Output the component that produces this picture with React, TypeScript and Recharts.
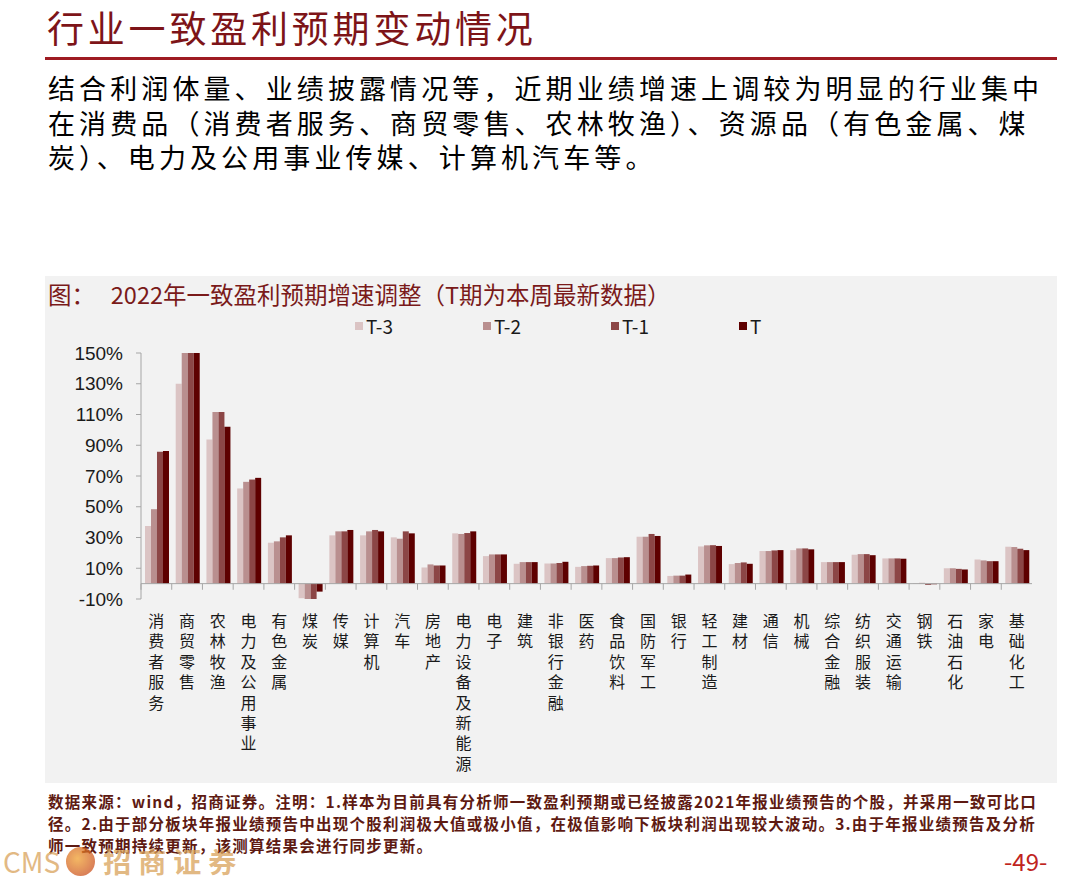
import React from 'react';
import { BarChart, Bar, XAxis, YAxis, ReferenceLine } from 'recharts';

// 行业（按图中顺序）
const industries = [
  '消费者服务', '商贸零售', '农林牧渔', '电力及公用事业', '有色金属', '煤炭', '传媒', '计算机',
  '汽车', '房地产', '电力设备及新能源', '电子', '建筑', '非银行金融', '医药', '食品饮料',
  '国防军工', '银行', '轻工制造', '建材', '通信', '机械', '综合金融', '纺织服装',
  '交通运输', '钢铁', '石油石化', '家电', '基础化工',
];

// 2022年一致盈利预期增速（%），读自图
const valuesT3 = [37.5, 130, 93.8, 61.9, 26.6, -9.5, 31.4, 31.4, 30.1, 10.5, 32.7, 17.9, 12.9, 13.1, 10.9, 16.6, 30.5, 5.0, 24.2, 12.7, 21.2, 21.8, 14.0, 18.8, 16.4, 0.3, 10.0, 15.7, 24.0];
const valuesT2 = [48.4, 150, 111.7, 66.2, 27.5, -10, 34.0, 34.0, 29.2, 12.5, 32.3, 19.0, 14.0, 13.1, 11.4, 16.6, 30.5, 5.2, 24.9, 13.4, 21.2, 22.9, 14.0, 19.2, 16.4, 0.5, 10.0, 15.1, 23.8];
const valuesT1 = [85.8, 150, 111.7, 67.7, 30.1, -10, 34.0, 34.9, 34.0, 11.8, 32.9, 19.0, 14.0, 13.4, 11.6, 17.0, 32.3, 5.2, 25.0, 13.8, 21.6, 22.9, 14.0, 19.2, 16.4, -0.8, 9.6, 14.6, 22.7];
const valuesT = [86.2, 150, 102.0, 68.8, 31.4, -5.2, 34.9, 34.0, 32.7, 11.8, 34.0, 19.0, 14.0, 14.2, 11.8, 17.2, 31.0, 5.9, 24.5, 12.9, 21.8, 22.3, 14.0, 18.5, 16.2, -0.4, 9.2, 14.6, 21.8];

const yTicks = [-10, 10, 30, 50, 70, 90, 110, 130, 150];

const series = [
  { key: 't3', name: 'T-3', color: '#dbc4c4' },
  { key: 't2', name: 'T-2', color: '#b98f8f' },
  { key: 't1', name: 'T-1', color: '#8c4646' },
  { key: 't0', name: 'T', color: '#5e0000' },
];

const data = industries.map((name, i) => ({
  name,
  t3: valuesT3[i],
  t2: valuesT2[i],
  t1: valuesT1[i],
  t0: valuesT[i],
}));

const CJK = "'Noto Sans CJK SC', 'Noto Sans', sans-serif";
const NARROW = "'Liberation Sans Narrow', 'Arial Narrow', 'Noto Sans CJK SC', sans-serif";
const AXIS_GRAY = '#a6a6a6';

// 竖排类目标签
const CategoryTick = (props: any) => {
  const { x, y, payload } = props;
  return (
    <text
      x={x}
      y={y + 14}
      fontSize={16}
      fill="#1a1a1a"
      fontFamily={CJK}
      style={{ writingMode: 'vertical-rl', letterSpacing: '4.4px' }}
    >
      {payload.value}
    </text>
  );
};

const paragraph = [
  '结合利润体量、业绩披露情况等，近期业绩增速上调较为明显的行业集中',
  '在消费品（消费者服务、商贸零售、农林牧渔）、资源品（有色金属、煤',
  '炭）、电力及公用事业传媒、计算机汽车等。',
];

const notes = [
  '数据来源：wind，招商证券。注明：1.样本为目前具有分析师一致盈利预期或已经披露2021年报业绩预告的个股，并采用一致可比口',
  '径。2.由于部分板块年报业绩预告中出现个股利润极大值或极小值，在极值影响下板块利润出现较大波动。3.由于年报业绩预告及分析',
  '师一致预期持续更新，该测算结果会进行同步更新。',
];

export default function App() {
  return (
    <div
      style={{
        position: 'absolute',
        left: 0,
        top: 0,
        width: 1080,
        height: 878,
        background: '#fff',
        overflow: 'hidden',
        fontFamily: CJK,
      }}
    >
      {/* 标题 */}
      <div
        style={{
          position: 'absolute',
          left: 47,
          top: 5,
          fontSize: 37,
          letterSpacing: 3.8,
          color: '#7d1418',
          whiteSpace: 'nowrap',
          lineHeight: '44px',
        }}
      >
        行业一致盈利预期变动情况
      </div>
      <div style={{ position: 'absolute', left: 45, top: 57, width: 1012, height: 3, background: '#9e1b22' }} />

      <div
        style={{
          position: 'absolute',
          left: 48,
          top: 71,
          fontSize: 27,
          letterSpacing: 4.1,
          lineHeight: '34.5px',
          color: '#000',
          whiteSpace: 'nowrap',
        }}
      >
        {paragraph.map((line, i) => (
          <div key={i}>{line}</div>
        ))}
      </div>

      {/* 图表区 */}
      <div style={{ position: 'absolute', left: 45, top: 276, width: 1012, height: 507, background: '#f2f2f2' }}>
        <div
          style={{
            position: 'absolute',
            left: 3,
            top: 3,
            fontSize: 23.5,
            color: '#7a1a1a',
            whiteSpace: 'nowrap',
            fontFamily: NARROW,
            lineHeight: '30px',
          }}
        >
          图：&nbsp;&nbsp;&nbsp;2022年一致盈利预期增速调整（T期为本周最新数据）
        </div>

        <div style={{ position: 'absolute', left: 310, top: 36, display: 'flex' }}>
          {series.map((s) => (
            <div
              key={s.key}
              style={{ display: 'flex', alignItems: 'center', width: 128, fontSize: 19, fontFamily: NARROW, color: '#1a1a1a' }}
            >
              <span style={{ display: 'inline-block', width: 8, height: 8, background: s.color, marginRight: 3 }} />
              {s.name}
            </div>
          ))}
        </div>

        <BarChart
          width={1012}
          height={507}
          data={data}
          margin={{ top: 77, right: 25, left: 0, bottom: 0 }}
          barCategoryGap="13%"
          barGap={0}
        >
          <XAxis
            dataKey="name"
            interval={0}
            axisLine={false}
            tickLine={false}
            tickSize={0}
            tickMargin={0}
            height={184}
            tick={<CategoryTick />}
          />
          <YAxis
            width={96}
            domain={[-10, 150]}
            ticks={yTicks}
            allowDataOverflow
            interval={0}
            tickFormatter={(v) => `${v}%`}
            axisLine={{ stroke: AXIS_GRAY }}
            tickLine={{ stroke: AXIS_GRAY }}
            tickSize={5}
            tickMargin={13}
            tick={{ fontSize: 19, fill: '#1a1a1a', fontFamily: "'Liberation Sans', Arial, sans-serif" }}
          />
          {series.map((s) => (
            <Bar key={s.key} dataKey={s.key} name={s.name} fill={s.color} isAnimationActive={false} />
          ))}
          <ReferenceLine y={0} stroke={AXIS_GRAY} strokeWidth={1} />
          {industries.map((name) => (
            <ReferenceLine
              key={name}
              segment={[{ x: name, y: 0 }, { x: name, y: -4 }]}
              position="start"
              stroke={AXIS_GRAY}
            />
          ))}
          <ReferenceLine
            segment={[
              { x: industries[industries.length - 1], y: 0 },
              { x: industries[industries.length - 1], y: -4 },
            ]}
            position="end"
            stroke={AXIS_GRAY}
          />
        </BarChart>
      </div>

      {/* 注释 */}
      <div
        style={{
          position: 'absolute',
          left: 48,
          top: 790,
          fontSize: 15.5,
          letterSpacing: 1.25,
          fontWeight: 700,
          color: '#5e1a12',
          whiteSpace: 'nowrap',
          lineHeight: '22px',
        }}
      >
        {notes.map((line, i) => (
          <div key={i}>{line}</div>
        ))}
      </div>

      {/* 页脚标识 */}
      <div
        style={{
          position: 'absolute',
          left: 3,
          top: 846,
          height: 30,
          display: 'flex',
          alignItems: 'center',
          opacity: 0.75,
        }}
      >
        <span style={{ fontFamily: NARROW, fontSize: 28, color: '#d9a25a', lineHeight: '30px' }}>CMS</span>
        <span
          style={{
            display: 'inline-block',
            width: 29,
            height: 29,
            borderRadius: 15,
            background: 'radial-gradient(circle at 40% 40%, #f0a030, #c0391b)',
            margin: '0 8px 0 6px',
          }}
        />
        <span style={{ fontSize: 28, fontWeight: 700, color: '#d9a25a', letterSpacing: 7, lineHeight: '30px' }}>
          招商证券
        </span>
      </div>
      <div
        style={{
          position: 'absolute',
          left: 1004,
          top: 847,
          fontSize: 24,
          color: '#c0241e',
          fontFamily: NARROW,
          lineHeight: '28px',
        }}
      >
        -49-
      </div>
    </div>
  );
}
